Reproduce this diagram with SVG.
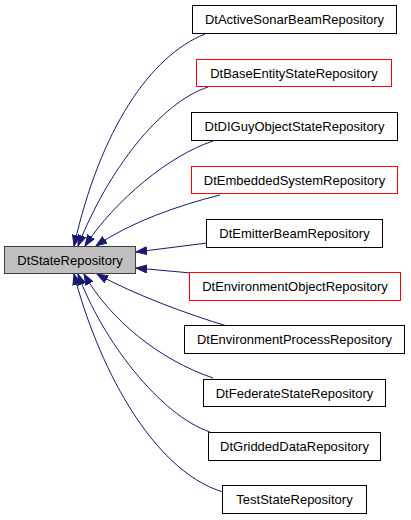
<svg xmlns="http://www.w3.org/2000/svg" width="411" height="520" viewBox="0 0 411 520">
<style>
.n rect{fill:#fff;stroke:#000;stroke-width:1}
.n.red rect{stroke:#ff0000}
.n.root rect{fill:#bfbfbf;stroke:#404040}
.n text{font-family:"Liberation Sans",Arial,sans-serif;font-size:13px;text-anchor:middle;fill:#000}
.e path{fill:none;stroke:#191970;stroke-width:1;marker-end:url(#ah)}
</style>
<defs>
<marker id="ah" markerUnits="userSpaceOnUse" markerWidth="12" markerHeight="9" refX="11" refY="4" orient="auto" viewBox="0 0 12 8">
<path d="M0,0 L11,4 L0,8 z" fill="#191970" stroke="#191970" stroke-width="1"/>
</marker>
</defs>
<rect width="411" height="520" fill="#fff"/>
<g id="edges" class="e">
<path d="M205,34 C150,56 100,130 74,246"/>
<path d="M208,87 C160,103 108,170 78,246"/>
<path d="M213,141 C170,155 115,200 85,246"/>
<path d="M220,195 C180,205 130,222 96,246"/>
<path d="M207,243 L136,252"/>
<path d="M202,274 L136,268"/>
<path d="M227,326 C190,315 135,295 97,274"/>
<path d="M213,378 C160,360 110,320 84,274"/>
<path d="M210,432 C160,415 102,340 78,274"/>
<path d="M223,492 C150,470 96,360 74,274"/>
</g>
<g id="DtStateRepository" class="n root"><rect x="4.5" y="246.5" width="131" height="27"/><text x="70" y="264.5">DtStateRepository</text></g>
<g id="DtActiveSonarBeamRepository" class="n"><rect x="192.5" y="5.5" width="204" height="28"/><text x="294.5" y="24">DtActiveSonarBeamRepository</text></g>
<g id="DtBaseEntityStateRepository" class="n red"><rect x="196.5" y="59.5" width="195" height="27"/><text x="294" y="77.5">DtBaseEntityStateRepository</text></g>
<g id="DtDIGuyObjectStateRepository" class="n"><rect x="191.5" y="112.5" width="206" height="28"/><text x="294.5" y="131">DtDIGuyObjectStateRepository</text></g>
<g id="DtEmbeddedSystemRepository" class="n red"><rect x="191.5" y="166.5" width="206" height="27"/><text x="294.5" y="184.5">DtEmbeddedSystemRepository</text></g>
<g id="DtEmitterBeamRepository" class="n"><rect x="206.5" y="219.5" width="176" height="28"/><text x="294.5" y="238">DtEmitterBeamRepository</text></g>
<g id="DtEnvironmentObjectRepository" class="n red"><rect x="189.5" y="272.5" width="211" height="28"/><text x="295" y="291">DtEnvironmentObjectRepository</text></g>
<g id="DtEnvironmentProcessRepository" class="n"><rect x="184.5" y="325.5" width="220" height="28"/><text x="294.5" y="344">DtEnvironmentProcessRepository</text></g>
<g id="DtFederateStateRepository" class="n"><rect x="203.5" y="379.5" width="182" height="27"/><text x="294.5" y="397.5">DtFederateStateRepository</text></g>
<g id="DtGriddedDataRepository" class="n"><rect x="208.5" y="432.5" width="172" height="28"/><text x="294.5" y="451">DtGriddedDataRepository</text></g>
<g id="TestStateRepository" class="n"><rect x="222.5" y="485.5" width="144" height="28"/><text x="294.5" y="504">TestStateRepository</text></g>
</svg>
